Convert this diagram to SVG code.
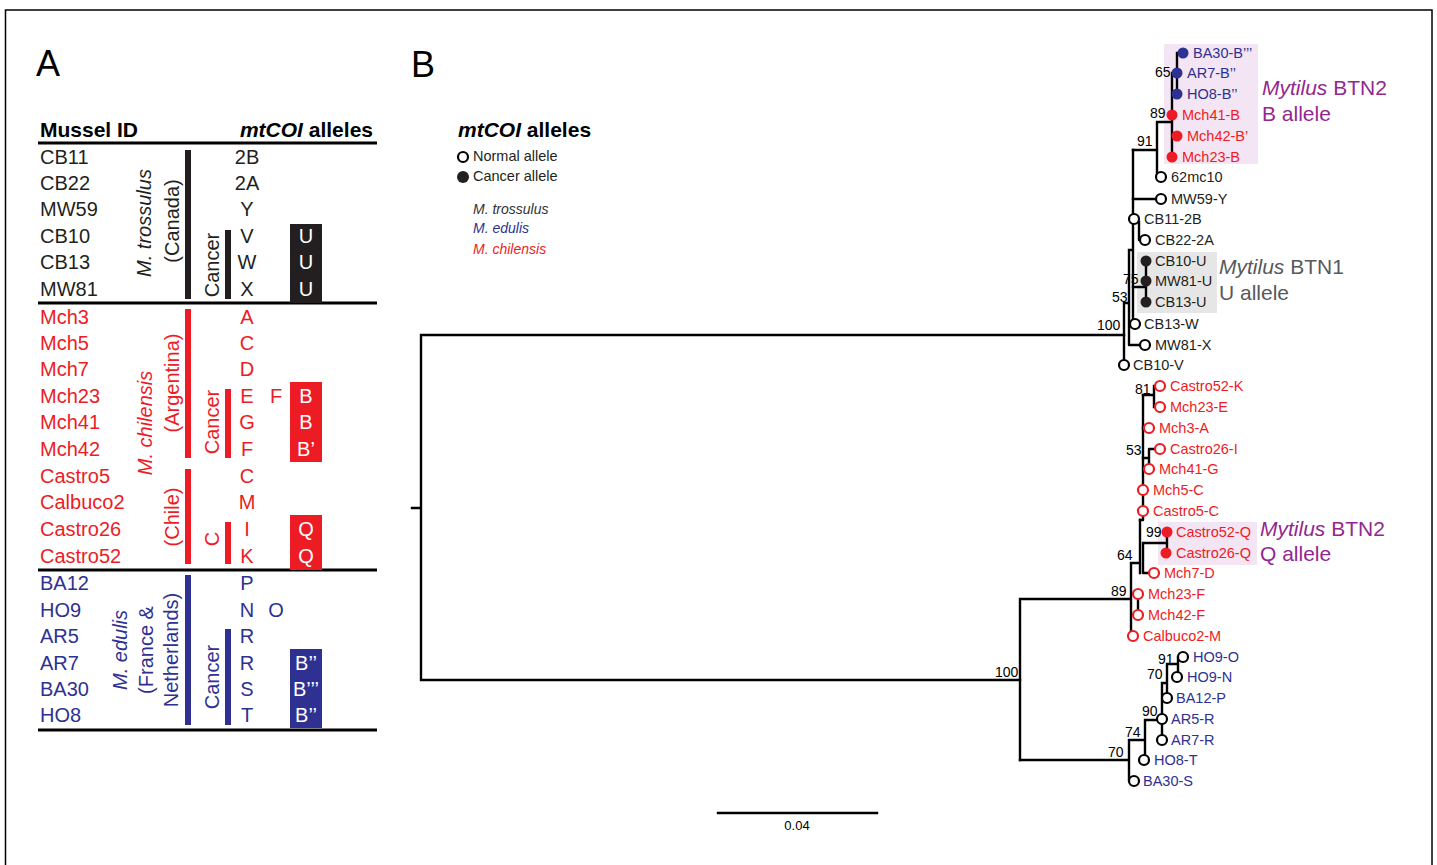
<svg xmlns="http://www.w3.org/2000/svg" width="1437" height="865" viewBox="0 0 1437 865">
<style>
text{font-family:"Liberation Sans",Arial,sans-serif}
.pl{font-size:36px;fill:#000}
.hd{font-size:21px;font-weight:bold;fill:#000}
.r{font-size:20px}
.k{fill:#231f20}.rd{fill:#ed1c24}.bl{fill:#2e3192}.w{fill:#fff}
.c{text-anchor:middle}
.it{font-style:italic}
.rule{stroke:#000;stroke-width:3}
.t{font-size:14.5px}
.bs{font-size:14px;fill:#000}
.br{fill:none;stroke:#000;stroke-width:2.4;stroke-linejoin:round;stroke-linecap:square}
.on{fill:#fff;stroke:#000;stroke-width:2.2}
.or{fill:#fff;stroke:#ed1c24;stroke-width:2.2}
.hl{font-size:21px}
</style>
<rect x="5.5" y="10" width="1426.5" height="870" fill="none" stroke="#000" stroke-width="1.5"/>
<text class="pl" x="36" y="76">A</text>
<text class="pl" x="411" y="77">B</text>

<g id="tableA">
<g id="header">
<text class="hd" x="40" y="137">Mussel ID</text>
<text class="hd" x="373" y="137" text-anchor="end"><tspan font-style="italic">mtCOI</tspan> alleles</text>
</g>
<g id="rules">
<line class="rule" x1="38" y1="143" x2="377" y2="143"/>
<line class="rule" x1="38" y1="303" x2="377" y2="303"/>
<line class="rule" x1="38" y1="570" x2="377" y2="570"/>
<line class="rule" x1="38" y1="730" x2="377" y2="730"/>
</g>
<g id="trossulus">
<rect class="k" x="185" y="150" width="6" height="149"/>
<rect class="k" x="225" y="230" width="6" height="69"/>
<rect class="k" x="290" y="224" width="32" height="79"/>
<text class="r k it c" transform="translate(151,223) rotate(-90)">M. trossulus</text>
<text class="r k c" transform="translate(179,221) rotate(-90)">(Canada)</text>
<text class="r k c" transform="translate(219,265) rotate(-90)">Cancer</text>
<g class="r k">
<text x="40" y="164">CB11</text><text x="40" y="190">CB22</text><text x="40" y="216">MW59</text>
<text x="40" y="243">CB10</text><text x="40" y="269">CB13</text><text x="40" y="296">MW81</text>
</g>
<g class="r k c">
<text x="247" y="164">2B</text><text x="247" y="190">2A</text><text x="247" y="216">Y</text>
<text x="247" y="243">V</text><text x="247" y="269">W</text><text x="247" y="296">X</text>
</g>
<g class="r w c">
<text x="306" y="243">U</text><text x="306" y="269">U</text><text x="306" y="296">U</text>
</g>
</g>
<g id="chilensis">
<rect class="rd" x="185" y="309" width="6" height="149"/>
<rect class="rd" x="185" y="469" width="6" height="95"/>
<rect class="rd" x="225" y="389" width="6" height="69"/>
<rect class="rd" x="225" y="522" width="6" height="42"/>
<rect class="rd" x="290" y="382" width="32" height="80"/>
<rect class="rd" x="290" y="515" width="32" height="55"/>
<text class="r rd it c" transform="translate(152,423) rotate(-90)">M. chilensis</text>
<text class="r rd c" transform="translate(179,383) rotate(-90)">(Argentina)</text>
<text class="r rd c" transform="translate(179,517) rotate(-90)">(Chile)</text>
<text class="r rd c" transform="translate(219,422) rotate(-90)">Cancer</text>
<text class="r rd c" transform="translate(219,539) rotate(-90)">C</text>
<g class="r rd">
<text x="40" y="324">Mch3</text><text x="40" y="350">Mch5</text><text x="40" y="376">Mch7</text>
<text x="40" y="403">Mch23</text><text x="40" y="429">Mch41</text><text x="40" y="456">Mch42</text>
<text x="40" y="483">Castro5</text><text x="40" y="509">Calbuco2</text><text x="40" y="536">Castro26</text>
<text x="40" y="563">Castro52</text>
</g>
<g class="r rd c">
<text x="247" y="324">A</text><text x="247" y="350">C</text><text x="247" y="376">D</text>
<text x="247" y="403">E</text><text x="247" y="429">G</text><text x="247" y="456">F</text>
<text x="247" y="483">C</text><text x="247" y="509">M</text><text x="247" y="536">I</text>
<text x="247" y="563">K</text>
<text x="276" y="403">F</text>
</g>
<g class="r w c">
<text x="306" y="403">B</text><text x="306" y="429">B</text><text x="306" y="456">B’</text>
<text x="306" y="536">Q</text><text x="306" y="563">Q</text>
</g>
</g>
<g id="edulis">
<rect class="bl" x="185" y="575" width="6" height="150"/>
<rect class="bl" x="225" y="629" width="6" height="96"/>
<rect class="bl" x="290" y="649" width="32" height="79"/>
<text class="r bl it c" transform="translate(127,650) rotate(-90)">M. edulis</text>
<text class="r bl c" transform="translate(153,650) rotate(-90)">(France &amp;</text>
<text class="r bl c" transform="translate(178,650) rotate(-90)">Netherlands)</text>
<text class="r bl c" transform="translate(219,677) rotate(-90)">Cancer</text>
<g class="r bl">
<text x="40" y="590">BA12</text><text x="40" y="617">HO9</text><text x="40" y="643">AR5</text>
<text x="40" y="670">AR7</text><text x="40" y="696">BA30</text><text x="40" y="722">HO8</text>
</g>
<g class="r bl c">
<text x="247" y="590">P</text><text x="247" y="617">N</text><text x="247" y="643">R</text>
<text x="247" y="670">R</text><text x="247" y="696">S</text><text x="247" y="722">T</text>
<text x="276" y="617">O</text>
</g>
<g class="r w c">
<text x="306" y="670">B’’</text><text x="306" y="696">B’’’</text><text x="306" y="722">B’’</text>
</g>
</g>
</g>

<g id="legend">
<text class="hd" x="458" y="137"><tspan font-style="italic">mtCOI</tspan> alleles</text>
<circle class="on" cx="463" cy="157" r="5"/>
<text x="473" y="161" font-size="14.5" fill="#231f20">Normal allele</text>
<circle cx="463" cy="177" r="6" fill="#231f20"/>
<text x="473" y="181" font-size="14.5" fill="#231f20">Cancer allele</text>
<text x="473" y="214" font-size="14" font-style="italic" fill="#333">M. trossulus</text>
<text x="473" y="233" font-size="14" font-style="italic" fill="#2e3192">M. edulis</text>
<text x="473" y="254" font-size="14" font-style="italic" fill="#ed1c24">M. chilensis</text>
</g>

<g id="highlights">
<rect x="1164" y="44" width="94" height="120" fill="#f3e5f3"/>
<rect x="1137" y="252" width="80" height="61" fill="#e6e6e6"/>
<rect x="1158" y="522" width="99" height="43" fill="#f3e5f3"/>
<text class="hl" x="1262" y="95" fill="#93278f"><tspan font-style="italic">Mytilus</tspan> BTN2</text>
<text class="hl" x="1262" y="121" fill="#93278f">B allele</text>
<text class="hl" x="1219" y="274" fill="#58595b"><tspan font-style="italic">Mytilus</tspan> BTN1</text>
<text class="hl" x="1219" y="300" fill="#58595b">U allele</text>
<text class="hl" x="1260" y="536" fill="#93278f"><tspan font-style="italic">Mytilus</tspan> BTN2</text>
<text class="hl" x="1260" y="561" fill="#93278f">Q allele</text>
</g>

<g id="connectors" class="br">
<path d="M412,508 H421 M421,335 V680 M421,335 H1124 M421,680 H1020"/>
<path d="M1124,303 V362 M1124,303 H1129 M1129,250 V345 H1142 M1129,250 H1133 M1133,150 V321"/>
<path d="M1133,287 H1146 M1146,261 V302 M1133,199 H1158 M1139,222 V240 H1142"/>
<path d="M1133,150 H1157 M1157,122 V177 H1158 M1157,122 H1172 M1172,73 V157 M1172,136 H1177 M1172,73 H1177 M1177,53 V94 M1177,53 H1183"/>
<path d="M1020,599 V760 M1020,599 H1131 M1131,563 V633 M1131,594 H1138 M1138,594 V615 M1131,563 H1140 M1140,520 V573"/>
<path d="M1143,395 V520 H1140 M1143,543 V573 H1151 M1143,543 H1167 M1167,532 V553"/>
<path d="M1143,395 H1154 M1154,386 V407 M1154,386 H1157 M1154,407 H1157 M1143,428 H1146 M1143,458 H1149 M1149,466 V449 H1157"/>
<path d="M1020,760 H1129 M1129,740 V781 H1131 M1129,740 H1145 M1145,720 V757 M1145,720 H1159 M1162,683 V737 M1162,683 H1167 M1167,664 V695 M1167,664 H1178 M1178,657 V674 M1178,657 H1180"/>
<path d="M718,813 H877"/>
</g>

<g id="bootstrap" class="bs">
<text x="1155" y="77">65</text>
<text x="1150" y="118">89</text>
<text x="1137" y="146">91</text>
<text x="1123" y="284">75</text>
<text x="1112" y="302">53</text>
<text x="1097" y="330">100</text>
<text x="1135" y="394">81</text>
<text x="1126" y="455">53</text>
<text x="1146" y="537">99</text>
<text x="1117" y="560">64</text>
<text x="1111" y="596">89</text>
<text x="995" y="677">100</text>
<text x="1158" y="664">91</text>
<text x="1147" y="679">70</text>
<text x="1142" y="716">90</text>
<text x="1125" y="737">74</text>
<text x="1108" y="757">70</text>
<text x="797" y="830" font-size="13" text-anchor="middle">0.04</text>
</g>

<g id="tips-trossulus" class="t">
<g id="BA30-Bppp"><circle cx="1183" cy="53" r="5.5" fill="#2e3192"/><text class="bl" x="1193" y="58">BA30-B’’’</text></g>
<g id="AR7-Bpp"><circle cx="1177" cy="73" r="5.5" fill="#2e3192"/><text class="bl" x="1187" y="78">AR7-B’’</text></g>
<g id="HO8-Bpp"><circle cx="1177" cy="94" r="5.5" fill="#2e3192"/><text class="bl" x="1187" y="99">HO8-B’’</text></g>
<g id="Mch41-B"><circle cx="1172" cy="115" r="5.5" fill="#ed1c24"/><text class="rd" x="1182" y="120">Mch41-B</text></g>
<g id="Mch42-Bp"><circle cx="1177" cy="136" r="5.5" fill="#ed1c24"/><text class="rd" x="1187" y="141">Mch42-B’</text></g>
<g id="Mch23-B"><circle cx="1172" cy="157" r="5.5" fill="#ed1c24"/><text class="rd" x="1182" y="162">Mch23-B</text></g>
<g id="t62mc10"><circle class="on" cx="1161" cy="177" r="5"/><text class="k" x="1171" y="182">62mc10</text></g>
<g id="MW59-Y"><circle class="on" cx="1161" cy="199" r="5"/><text class="k" x="1171" y="204">MW59-Y</text></g>
<g id="CB11-2B"><circle class="on" cx="1134" cy="219" r="5"/><text class="k" x="1144" y="224">CB11-2B</text></g>
<g id="CB22-2A"><circle class="on" cx="1145" cy="240" r="5"/><text class="k" x="1155" y="245">CB22-2A</text></g>
<g id="CB10-U"><circle cx="1146" cy="261" r="5.5" fill="#231f20"/><text class="k" x="1155" y="266">CB10-U</text></g>
<g id="MW81-U"><circle cx="1146" cy="281" r="5.5" fill="#231f20"/><text class="k" x="1155" y="286">MW81-U</text></g>
<g id="CB13-U"><circle cx="1146" cy="302" r="5.5" fill="#231f20"/><text class="k" x="1155" y="307">CB13-U</text></g>
<g id="CB13-W"><circle class="on" cx="1135" cy="324" r="5"/><text class="k" x="1144" y="329">CB13-W</text></g>
<g id="MW81-X"><circle class="on" cx="1145" cy="345" r="5"/><text class="k" x="1155" y="350">MW81-X</text></g>
<g id="CB10-V"><circle class="on" cx="1124" cy="365" r="5"/><text class="k" x="1133" y="370">CB10-V</text></g>
</g>

<g id="tips-chilensis" class="t">
<g id="Castro52-K"><circle class="or" cx="1160" cy="386" r="5"/><text class="rd" x="1170" y="391">Castro52-K</text></g>
<g id="Mch23-E"><circle class="or" cx="1160" cy="407" r="5"/><text class="rd" x="1170" y="412">Mch23-E</text></g>
<g id="Mch3-A"><circle class="or" cx="1149" cy="428" r="5"/><text class="rd" x="1159" y="433">Mch3-A</text></g>
<g id="Castro26-I"><circle class="or" cx="1160" cy="449" r="5"/><text class="rd" x="1170" y="454">Castro26-I</text></g>
<g id="Mch41-G"><circle class="or" cx="1149" cy="469" r="5"/><text class="rd" x="1159" y="474">Mch41-G</text></g>
<g id="Mch5-C"><circle class="or" cx="1143" cy="490" r="5"/><text class="rd" x="1153" y="495">Mch5-C</text></g>
<g id="Castro5-C"><circle class="or" cx="1143" cy="511" r="5"/><text class="rd" x="1153" y="516">Castro5-C</text></g>
<g id="Castro52-Q"><circle cx="1167" cy="532" r="5.5" fill="#ed1c24"/><text class="rd" x="1176" y="537">Castro52-Q</text></g>
<g id="Castro26-Q"><circle cx="1166" cy="553" r="5.5" fill="#ed1c24"/><text class="rd" x="1176" y="558">Castro26-Q</text></g>
<g id="Mch7-D"><circle class="or" cx="1154" cy="573" r="5"/><text class="rd" x="1164" y="578">Mch7-D</text></g>
<g id="Mch23-F"><circle class="or" cx="1138" cy="594" r="5"/><text class="rd" x="1148" y="599">Mch23-F</text></g>
<g id="Mch42-F"><circle class="or" cx="1138" cy="615" r="5"/><text class="rd" x="1148" y="620">Mch42-F</text></g>
<g id="Calbuco2-M"><circle class="or" cx="1133" cy="636" r="5"/><text class="rd" x="1143" y="641">Calbuco2-M</text></g>
</g>

<g id="tips-edulis" class="t">
<g id="HO9-O"><circle class="on" cx="1183" cy="657" r="5"/><text class="bl" x="1193" y="662">HO9-O</text></g>
<g id="HO9-N"><circle class="on" cx="1177" cy="677" r="5"/><text class="bl" x="1187" y="682">HO9-N</text></g>
<g id="BA12-P"><circle class="on" cx="1167" cy="698" r="5"/><text class="bl" x="1176" y="703">BA12-P</text></g>
<g id="AR5-R"><circle class="on" cx="1162" cy="719" r="5"/><text class="bl" x="1171" y="724">AR5-R</text></g>
<g id="AR7-R"><circle class="on" cx="1162" cy="740" r="5"/><text class="bl" x="1171" y="745">AR7-R</text></g>
<g id="HO8-T"><circle class="on" cx="1144" cy="760" r="5"/><text class="bl" x="1154" y="765">HO8-T</text></g>
<g id="BA30-S"><circle class="on" cx="1134" cy="781" r="5"/><text class="bl" x="1143" y="786">BA30-S</text></g>
</g>
</svg>
